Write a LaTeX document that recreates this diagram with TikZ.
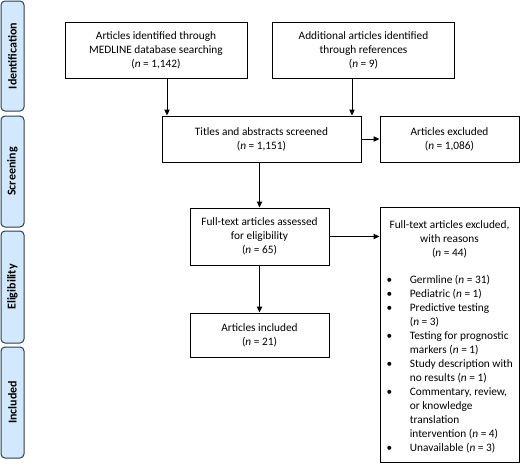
\documentclass[tikz,border=0pt]{standalone}
\usepackage{fontspec}
\setmainfont{Carlito}
\usetikzlibrary{arrows.meta}

\definecolor{stagefill}{RGB}{210,232,252}
\definecolor{stageline}{RGB}{45,60,80}
\newcommand{\nval}[1]{(\textit{n} = #1)}

\tikzset{every picture/.style={line width=0.75pt}}
\tikzset{
  box/.style={draw, rectangle, align=center, inner sep=0.75pt, font=\fontsize{8.5}{10.5}\selectfont},
  stage/.style={draw=stageline, fill=stagefill, rounded corners=3pt, rotate=90, minimum height=17.25pt, inner sep=0.75pt, font=\fontsize{9}{10.5}\selectfont\bfseries},
  flow/.style={-{Triangle[length=4.5pt,width=4pt]}},
}

\begin{document}
\begin{tikzpicture}[x=0.75pt,y=0.75pt,yscale=-1,xscale=1]
\useasboundingbox (0,0) rectangle (520,464);

%Stage bars
\node [stage, minimum width=82.5pt] (identification) at (12.5,56) {Identification};
\node [stage, minimum width=83.25pt] (screening) at (12.5,171.5) {Screening};
\node [stage, minimum width=84pt] (eligibility) at (12.5,287) {Eligibility};
\node [stage, minimum width=83.25pt] (inclusion) at (12.5,402.5) {Included};

%Rectangles
\node [box, minimum width=136.5pt, minimum height=42pt] (medline) at (156,50) {Articles identified through\\MEDLINE database searching\\\nval{1,142}};
\node [box, minimum width=136pt, minimum height=42pt] (references) at (363.5,50) {Additional articles identified\\through references\\\nval{9}};
\node [box, minimum width=149.25pt, minimum height=34.5pt] (screened) at (261.5,139) {Titles and abstracts screened\\\nval{1,151}};
\node [box, minimum width=104.25pt, minimum height=34.5pt] (excluded) at (449.5,139) {Articles excluded\\\nval{1,086}};
\node [box, minimum width=104.25pt, minimum height=42.75pt] (assessed) at (259.5,236.5) {Full-text articles assessed\\for eligibility\\\nval{65}};
\node [box, minimum width=104.25pt, minimum height=33pt] (included) at (259.5,335) {Articles included\\\nval{21}};
\node [box, minimum width=104.25pt, minimum height=191.25pt] (fullexcl) at (449.5,334.5) {};

% Text Node
\node [box, draw=none] (fullexclhead) at (449.5,239) {Full-text articles excluded,\\with reasons\\\nval{44}};
% Text Node
\node [box, draw=none, anchor=west, align=left, inner sep=0pt] (reasons) at (386,365) {%
\begin{tabular}{@{}p{17.5pt}@{}l@{}}
\textbullet & Germline \nval{31}\\
\textbullet & Pediatric \nval{1}\\
\textbullet & Predictive testing\\
 & \nval{3}\\
\textbullet & Testing for prognostic\\
 & markers \nval{1}\\
\textbullet & Study description with\\
 & no results \nval{1}\\
\textbullet & Commentary, review,\\
 & or knowledge\\
 & translation\\
 & intervention \nval{4}\\
\textbullet & Unavailable \nval{3}\\
\end{tabular}};

%Straight Lines
\coordinate (medlineout) at ([xshift=8.25pt]medline.south);
\coordinate (referencesout) at ([xshift=-8.625pt]references.south);
\draw [flow] (medlineout) -- (medlineout |- screened.north);
\draw [flow] (referencesout) -- (referencesout |- screened.north);
\draw [flow] (screened.east) -- (excluded.west);
\draw [flow] (screened.south -| assessed.north) -- (assessed.north);
\draw [flow] (assessed.east) -- (assessed.east -| fullexcl.west);
\draw [flow] (assessed.south) -- (included.north);

\end{tikzpicture}
\end{document}
